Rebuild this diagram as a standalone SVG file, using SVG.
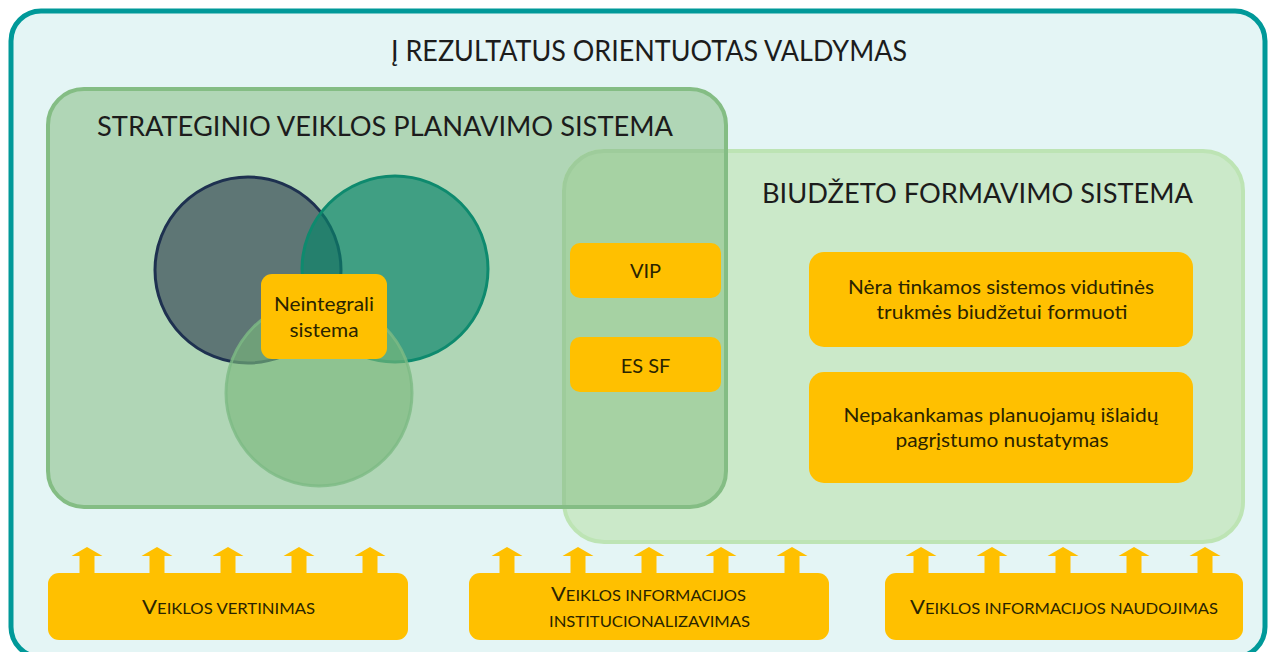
<svg xmlns="http://www.w3.org/2000/svg" width="1272" height="652" viewBox="0 0 1272 652">
<style>
  text { font-family: Lato, "Open Sans", "Liberation Sans", sans-serif; fill: #1c1c1c; }
  .ttl { font-size: 29px; }
  .h2 { font-size: 27px; }
  .lbl { font-size: 20px; text-anchor: middle; fill: #2a2400; }
  .sc { font-size: 15px; }
  .scb { font-size: 20px; }
  .bot { text-anchor: middle; fill: #2a2400; }
  .box { fill: #FFC000; }
</style>
<defs>
  <path id="arrow" d="M0,547 L15.5,556 L7.5,556 L7.5,575 L-7.5,575 L-7.5,556 L-15.5,556 Z" fill="#FFC000"/>
  <clipPath id="svpsClip"><rect x="48" y="89" width="678" height="418" rx="36"/></clipPath>
</defs>

<g id="outer">
  <rect x="11" y="11" width="1254" height="646" rx="30" fill="#E4F5F5" stroke="#009999" stroke-width="5"/>
  <text class="ttl" x="391" y="61" textLength="516" lengthAdjust="spacingAndGlyphs">Į REZULTATUS ORIENTUOTAS VALDYMAS</text>
</g>

<g id="svps">
  <rect x="48" y="89" width="678" height="418" rx="36" fill="#B0D6B6"/>
</g>

<g id="bfs">
  <rect x="564" y="151" width="679" height="391" rx="40" fill="#CBE9C9" stroke="#BDE4B4" stroke-width="4"/>
  <rect x="564" y="151" width="679" height="391" rx="40" fill="#A6D2A3" stroke="#9ECC9B" stroke-width="4" clip-path="url(#svpsClip)"/>
  <text class="h2" x="762" y="203" textLength="431" lengthAdjust="spacingAndGlyphs">BIUDŽETO FORMAVIMO SISTEMA</text>
</g>

<g id="svps-frame">
  <rect x="48" y="89" width="678" height="418" rx="36" fill="none" stroke="#84BD84" stroke-width="4"/>
  <text class="h2" x="97" y="136" textLength="576" lengthAdjust="spacingAndGlyphs">STRATEGINIO VEIKLOS PLANAVIMO SISTEMA</text>
</g>

<g id="venn">
  <circle id="c-dark" cx="248" cy="270" r="93" fill="#5E7675" stroke="#1E3150" stroke-width="3"/>
  <circle id="c-teal" cx="395" cy="269" r="93" fill="#0A856A" fill-opacity="0.68" stroke="#0E8A6E" stroke-width="3"/>
  <circle id="c-green" cx="319" cy="393" r="93" fill="#7AB77B" fill-opacity="0.63" stroke="#7DBA84" stroke-opacity="0.8" stroke-width="3"/>
</g>

<g id="neintegrali">
  <rect class="box" x="261" y="274" width="126" height="85" rx="11"/>
  <text class="lbl" x="324" y="311" font-size="19.5" textLength="100" lengthAdjust="spacingAndGlyphs">Neintegrali</text>
  <text class="lbl" x="324" y="337" font-size="19.5" textLength="69" lengthAdjust="spacingAndGlyphs">sistema</text>
</g>

<g id="vip">
  <rect class="box" x="570" y="243" width="151" height="55" rx="10"/>
  <text class="lbl" x="645.5" y="278">VIP</text>
</g>

<g id="essf">
  <rect class="box" x="570" y="337" width="151" height="55" rx="10"/>
  <text class="lbl" x="645.5" y="373">ES SF</text>
</g>

<g id="nera">
  <rect class="box" x="809" y="252" width="384" height="95" rx="15"/>
  <text class="lbl" x="1001" y="294" textLength="306" lengthAdjust="spacingAndGlyphs">Nėra tinkamos sistemos vidutinės</text>
  <text class="lbl" x="1002" y="319" textLength="251" lengthAdjust="spacingAndGlyphs">trukmės biudžetui formuoti</text>
</g>

<g id="nepakankamas">
  <rect class="box" x="809" y="372" width="384" height="111" rx="15"/>
  <text class="lbl" x="1001" y="422" textLength="315" lengthAdjust="spacingAndGlyphs">Nepakankamas planuojamų išlaidų</text>
  <text class="lbl" x="1002" y="447" textLength="213" lengthAdjust="spacingAndGlyphs">pagrįstumo nustatymas</text>
</g>

<g id="connectors">
  <use href="#arrow" x="87"/>
  <use href="#arrow" x="157"/>
  <use href="#arrow" x="228"/>
  <use href="#arrow" x="299"/>
  <use href="#arrow" x="370"/>
  <use href="#arrow" x="507"/>
  <use href="#arrow" x="578"/>
  <use href="#arrow" x="649"/>
  <use href="#arrow" x="721"/>
  <use href="#arrow" x="792"/>
  <use href="#arrow" x="921"/>
  <use href="#arrow" x="992"/>
  <use href="#arrow" x="1063"/>
  <use href="#arrow" x="1134"/>
  <use href="#arrow" x="1205"/>
</g>

<g id="vertinimas">
  <rect class="box" x="48" y="573" width="360" height="67" rx="11"/>
  <text class="bot" x="228.5" y="614" textLength="173" lengthAdjust="spacingAndGlyphs"><tspan class="scb">V</tspan><tspan class="sc">EIKLOS VERTINIMAS</tspan></text>
</g>

<g id="institucionalizavimas">
  <rect class="box" x="469" y="573" width="360" height="67" rx="11"/>
  <text class="bot" x="648.5" y="601" textLength="195" lengthAdjust="spacingAndGlyphs"><tspan class="scb">V</tspan><tspan class="sc">EIKLOS INFORMACIJOS</tspan></text>
  <text class="bot sc" x="649.5" y="627" textLength="201" lengthAdjust="spacingAndGlyphs">INSTITUCIONALIZAVIMAS</text>
</g>

<g id="naudojimas">
  <rect class="box" x="885" y="573" width="358" height="67" rx="11"/>
  <text class="bot" x="1064" y="614" textLength="308" lengthAdjust="spacingAndGlyphs"><tspan class="scb">V</tspan><tspan class="sc">EIKLOS INFORMACIJOS NAUDOJIMAS</tspan></text>
</g>
</svg>
